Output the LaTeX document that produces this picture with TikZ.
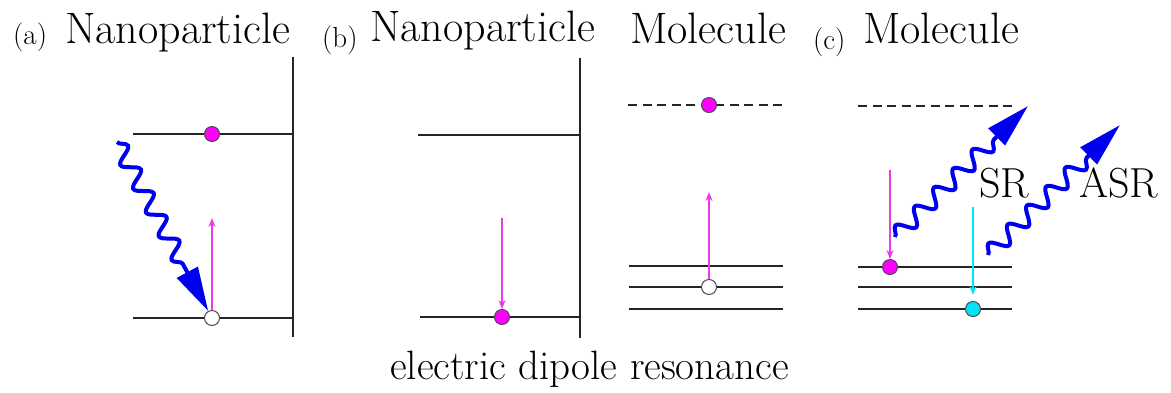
\documentclass[tikz,border=0pt]{standalone}
\usepackage{fontspec}
\usetikzlibrary{arrows.meta,decorations.pathmorphing,positioning}
\definecolor{elMag}{HTML}{FF00FF}
\definecolor{elPink}{HTML}{E83CE8}
\definecolor{elBlue}{HTML}{0000F0}
\definecolor{elCyan}{HTML}{00E5F5}
\tikzset{
  headtext/.style={font=\fontsize{44}{50}\selectfont, inner sep=0pt, anchor=base west},
  paneltag/.style={font=\fontsize{29}{34}\selectfont, inner sep=0pt, anchor=base west},
  lvl/.style={line width=2.2pt, black!85},
  virtual/.style={lvl, dash pattern=on 9pt off 5.5pt},
  wall/.style={line width=2.2pt, black!85},
  electron/.style={circle, draw=black!70, line width=1pt, fill=elMag, minimum size=15pt, inner sep=0pt},
  hole/.style={electron, fill=white},
  relaxed/.style={electron, fill=elCyan},
  excite/.style={-{Stealth[length=9pt,width=7pt]}, line width=1.5pt, elPink},
  photon/.style={-{Triangle[length=44pt,width=23pt]}, line width=4pt, elBlue,
    decorate, decoration={snake, amplitude=8pt, segment length=27pt, post length=46pt}}
}
\begin{document}
\begin{tikzpicture}[x=1pt, y=-1pt]
  \useasboundingbox (0,0) rectangle (1171,392);
  % headings
  \node[paneltag] (tagA) at (13,44) {(a)};
  \node[headtext] (npA) at (65,43) {Nanoparticle};
  \node[paneltag] (tagB) at (322,47) {(b)};
  \node[headtext] (npB) at (370,41) {Nanoparticle};
  \node[headtext] (molB) at (630,43) {Molecule};
  \node[paneltag] (tagC) at (813,49) {(c)};
  \node[headtext] (molC) at (863,43) {Molecule};
  \node[headtext, font=\fontsize{41}{47}\selectfont] (edr) at (390,379) {electric dipole resonance};

  % (a) nanoparticle absorbs
  \draw[wall] (293,57) -- (293,337);
  \draw[lvl] (133,134) -- (293,134);
  \draw[lvl] (133,318) -- (293,318);
  \node[electron] (aE) at (212,134) {};
  \node[hole] (aH) at (212,318) {};
  \coordinate (aTip) at (212,218);
  \coordinate (aIn) at (117,142);
  \draw[excite] (aH) -- (aTip);
  \draw[photon] (aIn) -- (aH);

  % (b) nanoparticle relaxes
  \draw[wall] (580,58) -- (580,338);
  \draw[lvl] (418,135) -- (580,135);
  \draw[lvl] (420,317) -- (580,317);
  \node[electron] (bE) at (502,317) {};
  \coordinate (bTop) at (502,218);
  \draw[excite] (bTop) -- (bE);

  % (b) molecule excited
  \draw[virtual] (628,105) -- (783,105);
  \draw[lvl] (629,266) -- (783,266);
  \draw[lvl] (629,287) -- (783,287);
  \draw[lvl] (629,309) -- (783,309);
  \node[electron] (mE) at (709,105) {};
  \node[hole] (mH) at (709,287) {};
  \coordinate (mTip) at (709,192);
  \draw[excite] (mH) -- (mTip);

  % (c) molecule emits
  \draw[virtual] (858,106) -- (1012,106);
  \draw[lvl] (858,267) -- (1012,267);
  \draw[lvl] (858,287) -- (1012,287);
  \draw[lvl] (858,309) -- (1012,309);
  \node[electron] (cE) at (890,267) {};
  \node[relaxed] (cG) at (973,309) {};
  \coordinate (cTop) at (890,170);
  \coordinate (gTop) at (973,207);
  \draw[excite] (cTop) -- (cE);
  \draw[excite, elCyan, shorten >=6pt] (gTop) -- (cG);
  \coordinate (srIn) at (895,237);
  \coordinate (srOut) at (1028,106);
  \coordinate (asrIn) at (988,255);
  \coordinate (asrOut) at (1120,125);
  \draw[photon] (srIn) -- (srOut);
  \draw[photon] (asrIn) -- (asrOut);
  \node[headtext, font=\fontsize{42}{48}\selectfont] (sr) at (979,197) {SR};
  \node[headtext, font=\fontsize{42}{48}\selectfont] (asr) at (1079,197) {ASR};
\end{tikzpicture}
\end{document}
